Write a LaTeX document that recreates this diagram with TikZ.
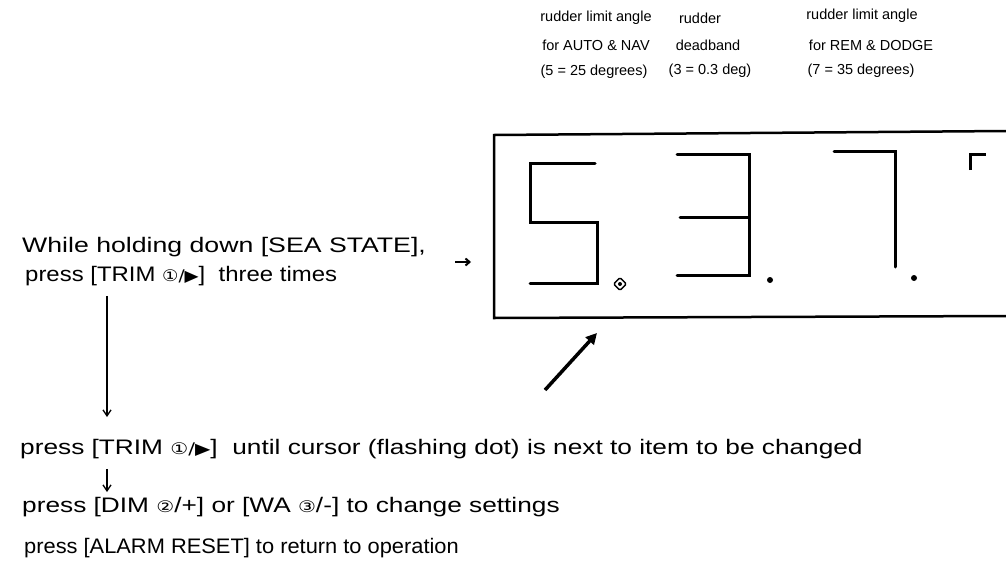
\documentclass[tikz,border=0pt]{standalone}
\usepackage{fontspec}
\usepackage{graphicx}
\setmainfont{Liberation Sans}
\newfontfamily\sym{DejaVu Sans}
\usetikzlibrary{arrows.meta}
\tikzset{
  txt/.style={anchor=west, inner sep=0pt, font=\fontsize{21}{25}\selectfont},
  toptxt/.style={anchor=center, inner sep=0pt, font=\fontsize{14.5}{17}\selectfont},
  seg/.style={line width=3pt, line cap=round},
  frame/.style={line width=2.5pt},
  conn/.style={line width=1.3pt, -{Straight Barb[length=6pt,width=8pt]}},
  bigarrow/.style={line width=3.5pt, -{Triangle[length=11pt,width=11pt]}},
}
\newcommand{\ksym}[1]{{\sym\fontsize{16}{16}\selectfont #1}}
\newcommand{\wide}[2]{\scalebox{#1}[1]{#2}}
\begin{document}
\begin{tikzpicture}[x=1pt,y=-1pt]
\useasboundingbox (0,0) rectangle (1006,573);

% top labels
\node[toptxt] (a1) at (596,18) {rudder limit angle};
\node[toptxt] (a2) at (596,45) {for AUTO \& NAV};
\node[toptxt] (a3) at (594,72) {(5 = 25 degrees)};
\node[toptxt] (b1) at (700,18) {rudder};
\node[toptxt] (b2) at (708,45) {deadband};
\node[toptxt] (b3) at (710,71) {(3 = 0.3 deg)};
\node[toptxt] (c1) at (862,16) {rudder limit angle};
\node[toptxt] (c2) at (871,45) {for REM \& DODGE};
\node[toptxt] (c3) at (861,71) {(7 = 35 degrees)};

% display frame
\draw[frame] (1006,131) -- (494,135) -- (494,318) -- (1006,316);

% digit 5
\draw[seg] (595,163) -- (530,163) -- (530,222) -- (597,222) -- (597,283) -- (530,283);
% cursor symbol
\draw[line width=1.5pt, rounded corners=1.5pt, rotate around={45:(620,284)}] (615.5,279.5) rectangle (624.5,288.5);
\fill (620,284) circle (2pt);
% digit 3
\draw[seg] (677,154) -- (749,154) -- (749,275) -- (677,275);
\draw[seg] (680,217) -- (749,217);
\fill (770,280) circle (3pt);
% digit 7
\draw[seg] (834,151) -- (895,151) -- (895,267);
\fill (914,278) circle (3pt);
% corner mark
\draw[line width=3pt] (970,170) -- (970,154) -- (986,154);

% left texts
\node[txt] (l1) at (22,247) {\wide{1.27}{While holding down [SEA STATE],}};
\node[txt] (l2) at (25,276) {\wide{1.14}{press [TRIM \ksym{①/▶}]\ \ three times}};
\node[txt] (l3) at (20,449) {\wide{1.25}{press [TRIM \ksym{①/▶}]\ \ until cursor (flashing dot) is next to item to be changed}};
\node[txt] (l4) at (22,507) {\wide{1.25}{press [DIM \ksym{②}/+] or [WA \ksym{③}/-] to change settings}};
\node[txt] (l5) at (24,548) {\wide{1.04}{press [ALARM RESET] to return to operation}};

% connectors
\coordinate (vx) at (107,0);
\draw[conn] ([yshift=-10pt]vx |- l2.south) -- ([yshift=22pt]vx |- l3.north);
\draw[conn] ([yshift=-10pt]vx |- l3.south) -- ([yshift=5pt]vx |- l4.north);
\coordinate (sa) at (455,262);
\coordinate (sb) at (471,262);
\draw[line width=2pt, -{Straight Barb[length=4pt,width=7pt]}] (sa) -- (sb);
\coordinate (da) at (545,390);
\coordinate (db) at (597,333);
\draw[bigarrow] (da) -- (db);
\end{tikzpicture}
\end{document}
